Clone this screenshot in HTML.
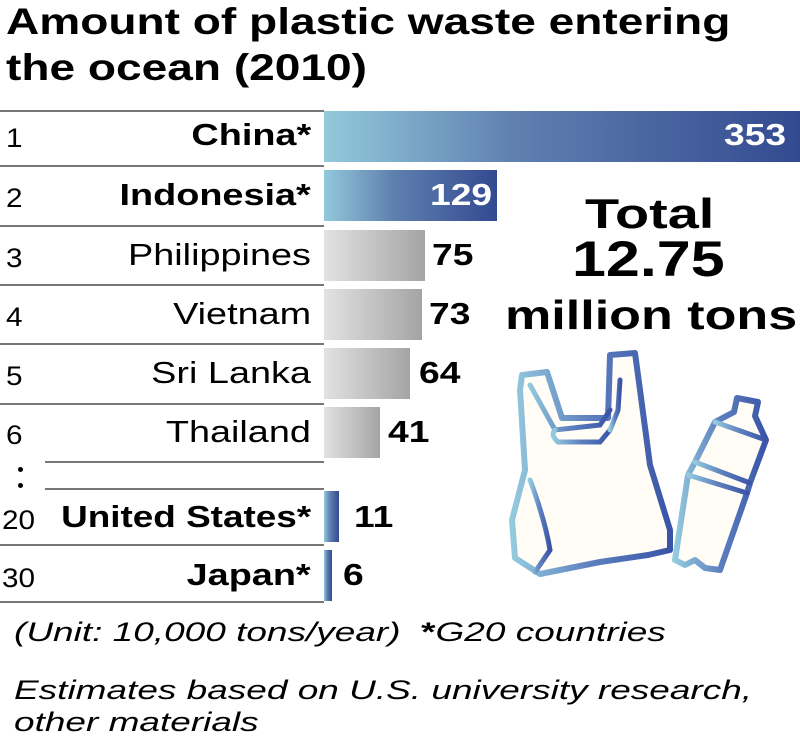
<!DOCTYPE html>
<html><head><meta charset="utf-8"><style>
html,body{margin:0;padding:0;background:#fff;width:800px;height:748px;overflow:hidden;font-family:"Liberation Sans",Arial,sans-serif;}
.a{position:absolute;white-space:nowrap;}
.t{font-weight:bold;font-size:37px;left:6px;line-height:44px;color:#000;transform:scaleX(1.245);transform-origin:left;}
.rk{font-size:27px;left:6px;transform:scaleX(1.1);transform-origin:left;}
.nm{font-size:31px;right:489px;text-align:right;transform:scaleX(1.22);transform-origin:right;}
.b{font-weight:bold;}
.ln{position:absolute;height:2px;background:#777;}
.bar{position:absolute;left:324px;}
.g{background:linear-gradient(to right,#e2e2e2,#a4a4a4);}
.bl{background:linear-gradient(to right,#93c9db,#5f80b0 40%,#334a90);}
.v{font-size:31px;font-weight:bold;transform:scaleX(1.2);transform-origin:left;}
.tt{font-weight:900;transform-origin:left;}
.ft{font-size:27px;font-style:italic;left:14px;transform:scaleX(1.37);transform-origin:left;}
</style></head><body>
<div class="a t" style="top:0px">Amount of plastic waste entering</div>
<div class="a t" style="top:46px">the ocean (2010)</div>

<div class="ln" style="left:0;width:324px;top:110px"></div>
<div class="ln" style="left:0;width:324px;top:165px"></div>
<div class="ln" style="left:0;width:324px;top:225px"></div>
<div class="ln" style="left:0;width:324px;top:284px"></div>
<div class="ln" style="left:0;width:324px;top:343px"></div>
<div class="ln" style="left:0;width:324px;top:403px"></div>
<div class="ln" style="left:45px;width:279px;top:461px"></div>
<div class="ln" style="left:45px;width:279px;top:488px"></div>
<div class="ln" style="left:0;width:324px;top:544px"></div>
<div class="ln" style="left:0;width:324px;top:601px"></div>

<div class="bar bl" style="top:111px;width:476px;height:51px"></div>
<div class="bar bl" style="top:170px;width:173px;height:51px"></div>
<div class="bar g" style="top:230px;width:101px;height:51px"></div>
<div class="bar g" style="top:289px;width:98px;height:51px"></div>
<div class="bar g" style="top:348px;width:86px;height:51px"></div>
<div class="bar g" style="top:407px;width:56px;height:51px"></div>
<div class="bar bl" style="top:491px;width:15px;height:51px"></div>
<div class="bar bl" style="top:550px;width:8px;height:51px"></div>

<div class="a rk" style="top:123px">1</div>
<div class="a rk" style="top:183px">2</div>
<div class="a rk" style="top:243px">3</div>
<div class="a rk" style="top:302px">4</div>
<div class="a rk" style="top:361px">5</div>
<div class="a rk" style="top:420px">6</div>
<div class="a" style="left:18px;top:467px;width:5px;height:5px;background:#000;border-radius:50%"></div>
<div class="a" style="left:18px;top:483px;width:5px;height:5px;background:#000;border-radius:50%"></div>
<div class="a rk" style="top:505px;left:2px">20</div>
<div class="a rk" style="top:563px;left:2px">30</div>

<div class="a nm b" style="top:117px">China*</div>
<div class="a nm b" style="top:177px">Indonesia*</div>
<div class="a nm" style="top:237px">Philippines</div>
<div class="a nm" style="top:296px">Vietnam</div>
<div class="a nm" style="top:355px">Sri Lanka</div>
<div class="a nm" style="top:414px">Thailand</div>
<div class="a nm b" style="top:499px;transform:scaleX(1.19)">United States*</div>
<div class="a nm b" style="top:557px">Japan*</div>

<div class="a v" style="top:117px;left:724px;color:#fff">353</div>
<div class="a v" style="top:177px;left:430px;color:#fff">129</div>
<div class="a v" style="top:237px;left:432px">75</div>
<div class="a v" style="top:296px;left:429px">73</div>
<div class="a v" style="top:355px;left:419px">64</div>
<div class="a v" style="top:414px;left:388px">41</div>
<div class="a v" style="top:499px;left:354px">11</div>
<div class="a v" style="top:557px;left:343px">6</div>

<div class="a b tt" style="top:190px;left:585px;font-size:42px;transform:scaleX(1.33)">Total</div>
<div class="a b tt" style="top:230px;left:572px;font-size:50px;transform:scaleX(1.22)">12.75</div>
<div class="a b tt" style="top:292px;left:505px;font-size:41px;transform:scaleX(1.27)">million tons</div>

<svg class="a" style="left:500px;top:350px" width="300" height="240" viewBox="0 0 300 240">
<defs><linearGradient id="gr" x1="0" x2="1"><stop offset="0" stop-color="#94cade"/><stop offset="0.5" stop-color="#5d7fbe"/><stop offset="1" stop-color="#3a55a8"/></linearGradient></defs>
<g fill="#fffdf5" stroke="url(#gr)" stroke-width="6" stroke-linejoin="round" stroke-linecap="round">
<path d="M215 72 L234 62 L237 48 L258 52 L255 66 L266 90 L250 133 L247 143 L220 220 L205 218 L195 210 L185 215 L175 210 L188 125 L195 112 Z"/>
<path d="M22 25 L47 22 L62 68 L108 68 L110 5 L135 3 L140 40 L150 115 L170 180 L170 200 L148 205 L100 212 L40 224 L15 208 L12 170 L25 120 L20 40 Z"/>
</g>
<g fill="none" stroke="url(#gr)" stroke-width="5" stroke-linecap="round">
<path d="M30 35 L55 80 L100 75 L110 60"/>
<path d="M55 80 Q50 85 58 92 L100 92 L110 80"/>
<path d="M120 30 L118 60 L110 80"/>
<path d="M30 130 Q45 170 50 200 L35 222"/>
<path d="M195 112 L250 133"/>
<path d="M188 125 L247 143"/>
<path d="M215 72 L266 90"/>
</g>
</svg>

<div class="a ft" style="top:617px">(Unit: 10,000 tons/year)&nbsp; <b style="font-style:normal">*</b>G20 countries</div>
<div class="a ft" style="top:674px;line-height:32px">Estimates based on U.S. university research,<br>other materials</div>
</body></html>
